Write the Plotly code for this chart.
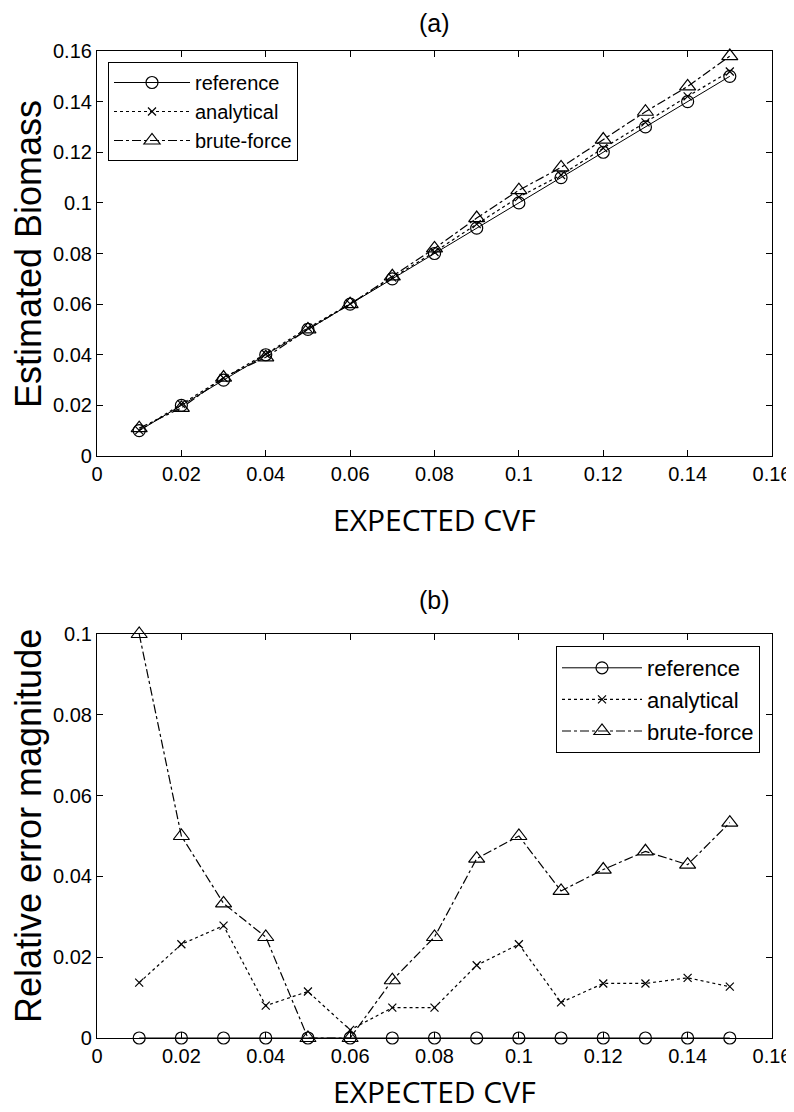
import plotly.graph_objects as go

cvf = [0.01, 0.02, 0.03, 0.04, 0.05, 0.06, 0.07, 0.08, 0.09, 0.10, 0.11, 0.12, 0.13, 0.14, 0.15]

# (a) estimated biomass
bio_reference = [0.01, 0.02, 0.03, 0.04, 0.05, 0.06, 0.07, 0.08, 0.09, 0.10, 0.11, 0.12, 0.13, 0.14, 0.15]
bio_analytical = [0.0101, 0.0205, 0.0308, 0.0403, 0.0506, 0.0601, 0.0705, 0.0806, 0.0916, 0.1023, 0.1110, 0.1216, 0.1318, 0.1421, 0.1519]
bio_bruteforce = [0.0110, 0.0190, 0.0310, 0.0390, 0.0500, 0.0600, 0.0710, 0.0820, 0.0940, 0.1050, 0.1140, 0.1250, 0.1360, 0.1460, 0.1580]

# (b) relative error magnitude
err_reference = [0] * 15
err_analytical = [0.0137, 0.0232, 0.0278, 0.0080, 0.0115, 0.0020, 0.0075, 0.0075, 0.0180, 0.0232, 0.0088, 0.0135, 0.0135, 0.0149, 0.0127]
err_bruteforce = [0.1000, 0.0500, 0.0333, 0.0250, 0.0, 0.0, 0.0143, 0.0250, 0.0444, 0.0500, 0.0364, 0.0417, 0.0462, 0.0429, 0.0533]

ticks_x = [0, 0.02, 0.04, 0.06, 0.08, 0.1, 0.12, 0.14, 0.16]
ticks_y_a = [0, 0.02, 0.04, 0.06, 0.08, 0.1, 0.12, 0.14, 0.16]
ticks_y_b = [0, 0.02, 0.04, 0.06, 0.08, 0.1]
tick_text = ["0", "0.02", "0.04", "0.06", "0.08", "0.1", "0.12", "0.14", "0.16"]

# page has an 8px body margin: the figure is sized to fill the rest of the window
OFF = 8
W, H = 794 - OFF, 1112 - OFF
SANS = "Liberation Sans, Arial"
TICKFONT = dict(family=SANS, size=20, color="black")

def px(x):  # page x pixel -> paper fraction
    return (x - OFF) / W

def py(y):  # page y pixel -> paper fraction (from bottom)
    return 1 - (y - OFF) / H

fig = go.Figure()

def add_series(xa, ya, ref, ana, bru, legend):
    fig.add_trace(go.Scatter(x=cvf, y=ref, name="reference", xaxis=xa, yaxis=ya, legend=legend,
                             mode="lines+markers", cliponaxis=False,
                             line=dict(color="black", width=1),
                             marker=dict(symbol="circle-open", size=12, color="black", line=dict(width=1.2))))
    fig.add_trace(go.Scatter(x=cvf, y=ana, name="analytical", xaxis=xa, yaxis=ya, legend=legend,
                             mode="lines+markers", cliponaxis=False,
                             line=dict(color="black", width=1.2, dash="dot"),
                             marker=dict(symbol="x-thin-open", size=8, color="black", line=dict(width=1.2, color="black"))))
    fig.add_trace(go.Scatter(x=cvf, y=bru, name="brute-force", xaxis=xa, yaxis=ya, legend=legend,
                             mode="lines+markers", cliponaxis=False,
                             line=dict(color="black", width=1.2, dash="dashdot"),
                             marker=dict(symbol="triangle-up-open", size=14, color="black", line=dict(width=1.2))))

add_series("x", "y", bio_reference, bio_analytical, bio_bruteforce, "legend")
add_series("x2", "y2", err_reference, err_analytical, err_bruteforce, "legend2")

axis_common = dict(showline=True, linecolor="black", linewidth=1.2, mirror="allticks",
                   ticks="inside", ticklen=6, tickcolor="black", tickwidth=1.2,
                   showgrid=False, zeroline=False, tickfont=TICKFONT, automargin=False,
                   ticklabeloverflow="allow")

xdom = [px(97), px(772)]
fig.update_layout(
    width=W, height=H,
    margin=dict(l=0, r=0, t=0, b=0, autoexpand=False),
    paper_bgcolor="white", plot_bgcolor="white",
    xaxis=dict(domain=xdom, range=[0, 0.16], tickvals=ticks_x, ticktext=tick_text, anchor="y", **axis_common),
    yaxis=dict(domain=[py(456), py(51)], range=[0, 0.16], tickvals=ticks_y_a,
               ticktext=tick_text, anchor="x", **axis_common),
    xaxis2=dict(domain=xdom, range=[0, 0.16], tickvals=ticks_x, ticktext=tick_text, anchor="y2", **axis_common),
    yaxis2=dict(domain=[py(1038), py(634)], range=[0, 0.1], tickvals=ticks_y_b,
                ticktext=tick_text[:6], anchor="x2", **axis_common),
    legend=dict(x=px(108), y=py(62), xanchor="left", yanchor="top",
                bordercolor="black", borderwidth=1, bgcolor="white", itemwidth=76,
                font=dict(family=SANS, size=20, color="black"), tracegroupgap=0),
    legend2=dict(x=px(760), y=py(646), xanchor="right", yanchor="top",
                 bordercolor="black", borderwidth=1, bgcolor="white", itemwidth=80,
                 font=dict(family=SANS, size=22, color="black"), tracegroupgap=0),
    showlegend=True,
)

cx = px((97 + 772) / 2)
for txt, yy in [("(a)", 23), ("(b)", 600)]:
    fig.add_annotation(text=txt, x=cx, y=py(yy), xref="paper", yref="paper",
                       showarrow=False, xanchor="center", yanchor="middle",
                       font=dict(family=SANS, size=25, color="black"))
for yy in [519, 1091]:
    fig.add_annotation(text="EXPECTED CVF", x=cx, y=py(yy), xref="paper", yref="paper",
                       showarrow=False, xanchor="center", yanchor="middle",
                       font=dict(family="Open Sans, Noto Sans", size=30, color="black"))
fig.add_annotation(text="Estimated Biomass", x=px(28), y=py(254), xref="paper", yref="paper",
                   showarrow=False, textangle=-90, xanchor="center", yanchor="middle",
                   font=dict(family=SANS, size=36, color="black"))
fig.add_annotation(text="Relative error magnitude", x=px(28), y=py(826), xref="paper", yref="paper",
                   showarrow=False, textangle=-90, xanchor="center", yanchor="middle",
                   font=dict(family=SANS, size=36, color="black"))

fig.write_html("out.html")
